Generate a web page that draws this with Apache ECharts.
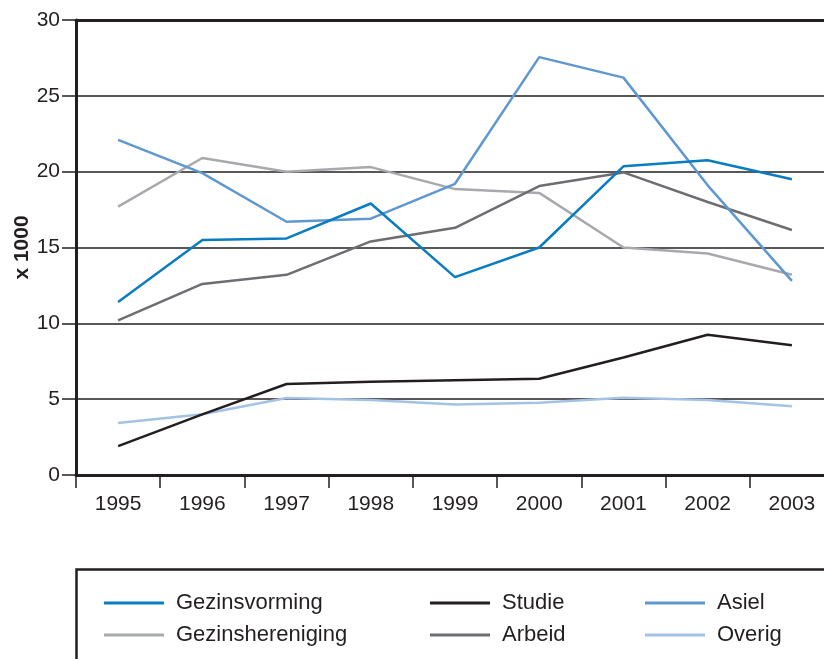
<!DOCTYPE html>
<html>
<head>
<meta charset="utf-8">
<script src="https://cdn.jsdelivr.net/npm/echarts@6/dist/echarts.min.js"></script>
<style>
html,body{margin:0;padding:0;background:#fff;}
#chart{width:824px;height:659px;}
</style>
</head>
<body>
<div id="chart"></div>
<script>
const years = ['1995','1996','1997','1998','1999','2000','2001','2002','2003'];
const gezinsvorming = [11.4, 15.5, 15.6, 17.9, 13.05, 15.0, 20.35, 20.75, 19.5];
const studie = [1.9, 4.0, 6.0, 6.15, 6.25, 6.35, 7.75, 9.25, 8.55];
const asiel = [22.1, 19.9, 16.7, 16.9, 19.2, 27.55, 26.2, 19.1, 12.8];
const gezinshereniging = [17.7, 20.9, 20.0, 20.3, 18.85, 18.6, 15.0, 14.6, 13.2];
const arbeid = [10.2, 12.6, 13.2, 15.4, 16.3, 19.05, 19.95, 18.0, 16.15];
const overig = [3.43, 4.0, 5.08, 4.94, 4.65, 4.77, 5.1, 4.94, 4.53];
const yTicks = [0, 5, 10, 15, 20, 25, 30];

const C = {
  gezinsvorming: '#0a7cc1',
  studie: '#231f20',
  asiel: '#5f98d0',
  gezinshereniging: '#a7a9ac',
  arbeid: '#6d6e71',
  overig: '#a4c2e6'
};
const ink = '#231f20';
const font = 'Liberation Sans, Arial, sans-serif';

function line(name, data, color) {
  return {
    name: name, type: 'line', data: data, symbol: 'none',
    lineStyle: { color: color, width: 2.5 }, itemStyle: { color: color },
    emphasis: { disabled: true }, animation: false
  };
}

function legendCol(left, names) {
  return {
    orient: 'vertical', left: left, top: 587,
    data: names, icon: 'rect', itemWidth: 60, itemHeight: 3, itemGap: 10,
    selectedMode: false,
    textStyle: { fontFamily: font, fontSize: 22, color: ink, lineHeight: 22, padding: [0, 0, 0, 7] }
  };
}

const chart = echarts.init(document.getElementById('chart'), null, { renderer: 'canvas' });
chart.setOption({
  animation: false,
  backgroundColor: '#fff',
  grid: { left: 76, right: -10, top: 20, bottom: 184, containLabel: false, outerBoundsMode: 'none' },
  xAxis: [{
    type: 'category', data: years, boundaryGap: true, position: 'bottom',
    axisLine: { show: true, lineStyle: { color: ink, width: 3 } },
    axisTick: { show: true, length: 13, interval: 0, lineStyle: { color: ink, width: 1.5 } },
    axisLabel: { fontFamily: font, fontSize: 21, color: ink, margin: 19, interval: 0 },
    splitLine: { show: false }
  }, {
    type: 'category', data: years, position: 'top',
    axisLine: { show: true, lineStyle: { color: ink, width: 3 } },
    axisTick: { show: false }, axisLabel: { show: false }, splitLine: { show: false }
  }],
  yAxis: {
    type: 'value', min: yTicks[0], max: yTicks[yTicks.length - 1], interval: 5,
    name: 'x 1000', nameLocation: 'middle', nameRotate: 90, nameGap: 43,
    nameMoveOverlap: false,
    nameTextStyle: { fontFamily: font, fontSize: 21, fontWeight: 'bold', color: ink },
    axisLine: { show: true, lineStyle: { color: ink, width: 3 } },
    axisTick: { show: true, length: 14, lineStyle: { color: ink, width: 1.5 } },
    axisLabel: { fontFamily: font, fontSize: 21, color: ink, margin: 16 },
    splitLine: { show: true, lineStyle: { color: ink, width: 1.5 } }
  },
  legend: [
    legendCol(99, ['Gezinsvorming', 'Gezinshereniging']),
    legendCol(425, ['Studie', 'Arbeid']),
    legendCol(640, ['Asiel', 'Overig'])
  ],
  graphic: [{
    type: 'polyline', silent: true,
    shape: { points: [[76.5, 670], [76.5, 569.5], [840, 569.5]] },
    style: { stroke: ink, lineWidth: 2.5, fill: null }
  }],
  series: [
    line('Overig', overig, C.overig),
    line('Gezinshereniging', gezinshereniging, C.gezinshereniging),
    line('Arbeid', arbeid, C.arbeid),
    line('Studie', studie, C.studie),
    line('Asiel', asiel, C.asiel),
    line('Gezinsvorming', gezinsvorming, C.gezinsvorming)
  ]
});
</script>
</body>
</html>
